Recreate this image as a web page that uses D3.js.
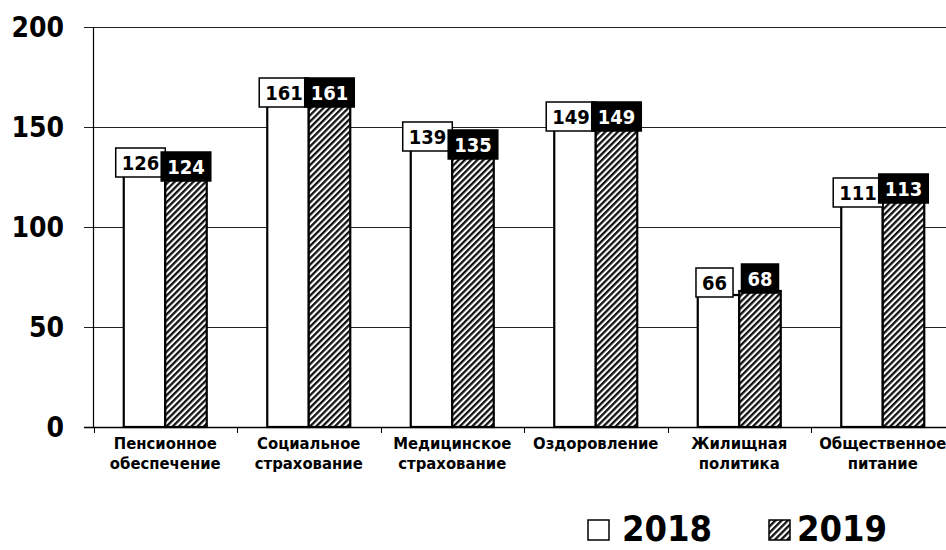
<!DOCTYPE html>
<html><head><meta charset="utf-8">
<script src="https://cdn.jsdelivr.net/npm/d3@7/dist/d3.min.js"></script>
<style>
html,body{margin:0;padding:0;background:#fff;}
svg{display:block;}
text{font-family:"DejaVu Sans Condensed","DejaVu Sans",sans-serif;font-weight:bold;}
</style></head>
<body>
<svg id="chart" width="946" height="550"></svg>
<script>
const categories = ["Пенсионное обеспечение","Социальное страхование","Медицинское страхование","Оздоровление","Жилищная политика","Общественное питание"];
const seriesNames = ["2018","2019"];
const values2018 = [126,161,139,149,66,111];
const values2019 = [124,161,135,149,68,113];
const yTicks = [0,50,100,150,200];

const svg = d3.select("#chart");
const W = 946, H = 550;
const x = d3.scaleBand().domain(categories).range([93.5, 954.5]).paddingInner(0).paddingOuter(0);
const x1 = d3.scaleBand().domain(seriesNames).range([0, x.bandwidth()]).paddingInner(0).paddingOuter(0.729);
const y = d3.scaleLinear().domain([0,200]).range([427,27]);

const defs = svg.append("defs");
const pat = defs.append("pattern").attr("id","hatch").attr("patternUnits","userSpaceOnUse")
  .attr("width",4.4).attr("height",4.4).attr("patternTransform","rotate(45)");
pat.append("rect").attr("width",4.4).attr("height",4.4).attr("fill","#fff");
pat.append("rect").attr("width",2.3).attr("height",4.4).attr("fill","#111");

// gridlines
svg.append("g").selectAll("line").data(yTicks).join("line")
  .attr("x1",84).attr("x2",W).attr("y1",d=>Math.round(y(d))+0.5).attr("y2",d=>Math.round(y(d))+0.5)
  .attr("stroke","#222").attr("stroke-width",1);

// y axis line
svg.append("line").attr("x1",93.5).attr("x2",93.5).attr("y1",y(200)).attr("y2",y(0)+0.5)
  .attr("stroke","#000").attr("stroke-width",1.2);

// y tick labels
svg.append("g").selectAll("text").data(yTicks).join("text")
  .attr("x",64).attr("y",d=>y(d)).attr("dy","0.36em").attr("text-anchor","end")
  .attr("font-size",28).attr("fill","#000").text(d=>d);

// x axis ticks
const bounds = categories.map(c=>x(c)).concat([x(categories[categories.length-1])+x.bandwidth()]);
svg.append("g").selectAll("line").data(bounds).join("line")
  .attr("x1",d=>Math.round(d)+0.5).attr("x2",d=>Math.round(d)+0.5).attr("y1",y(0)).attr("y2",y(0)+6)
  .attr("stroke","#000").attr("stroke-width",1);

const data = categories.map((c,i)=>({c, vals:[{s:"2018",v:values2018[i]},{s:"2019",v:values2019[i]}]}));

// bars
svg.append("g").selectAll("g").data(data).join("g")
  .attr("transform",d=>`translate(${x(d.c)},0)`)
  .selectAll("rect").data(d=>d.vals).join("rect")
  .attr("x",d=>x1(d.s)).attr("width",x1.bandwidth())
  .attr("y",d=>y(d.v)).attr("height",d=>y(0)-y(d.v))
  .attr("fill",d=>d.s==="2018"?"#fff":"url(#hatch)")
  .attr("stroke","#000").attr("stroke-width",2.2);

// x axis line
svg.append("line").attr("x1",84).attr("x2",W).attr("y1",y(0)+0.5).attr("y2",y(0)+0.5)
  .attr("stroke","#000").attr("stroke-width",1.5);

// category labels
const cl = svg.append("g").selectAll("text").data(categories).join("text")
  .attr("x",d=>x(d)+x.bandwidth()/2).attr("y",449).attr("text-anchor","middle")
  .attr("font-size",16.5).attr("fill","#000");
cl.each(function(d){
  const parts = d.split(" ");
  d3.select(this).selectAll("tspan").data(parts).join("tspan")
    .attr("x",x(d)+x.bandwidth()/2).attr("dy",(p,i)=>i===0?0:20).text(p=>p);
});

// data labels
const boxH = 29;
function drawLabels(series, vals, fill, txt, dx){
  const g = svg.append("g");
  categories.forEach((c,i)=>{
    const cx = x(c)+x1(series)+x1.bandwidth()/2+dx;
    const by = y(vals[i])+2;
    const lg = g.append("g");
    const r = lg.append("rect");
    const t = lg.append("text").attr("x",cx).attr("y",by-boxH/2).attr("dy","0.36em")
      .attr("text-anchor","middle").attr("font-size",20).attr("fill",txt).text(vals[i]);
    const w = t.node().getComputedTextLength()+12;
    r.attr("x",cx-w/2).attr("y",by-boxH).attr("width",w).attr("height",boxH)
      .attr("fill",fill).attr("stroke","#000").attr("stroke-width",1.5);
  });
}
drawLabels("2018", values2018, "#fff", "#000", -4);
drawLabels("2019", values2019, "#000", "#fff", 0);

// legend
const leg = svg.append("g");
const legItems = [{s:"2018",fill:"#fff",bx:588,tx:622},{s:"2019",fill:"url(#hatch)",bx:769,tx:797}];
legItems.forEach(it=>{
  leg.append("rect").attr("x",it.bx).attr("y",520).attr("width",21).attr("height",20)
    .attr("fill",it.fill).attr("stroke","#000").attr("stroke-width",1.5);
  leg.append("text").attr("x",it.tx).attr("y",541).attr("font-size",36).attr("fill","#000").text(it.s);
});
</script>
</body></html>
